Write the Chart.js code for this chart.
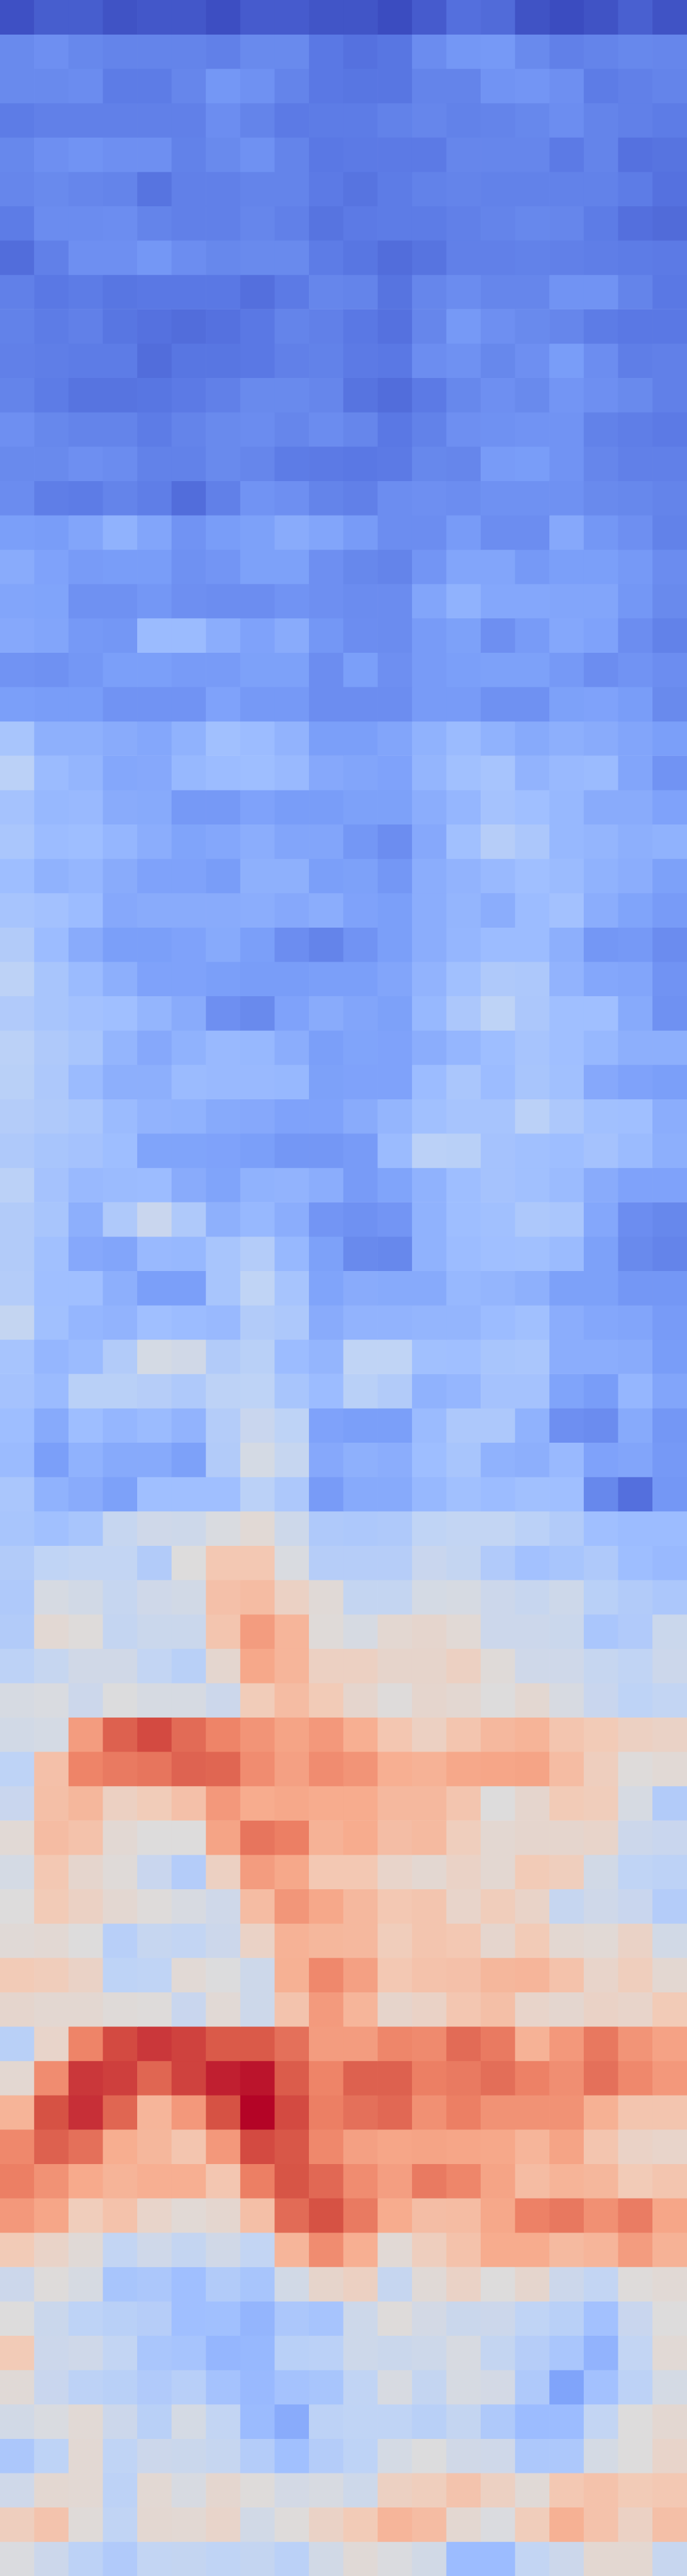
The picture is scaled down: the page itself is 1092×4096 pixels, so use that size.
<!DOCTYPE html>
<html>
<head>
<meta charset="utf-8">
<style>html,body{margin:0;padding:0;background:#fff}#wrap{width:1092px;height:4096px}canvas{display:block}</style>
<script src="https://cdn.jsdelivr.net/npm/chart.js@4"></script>
</head>
<body>
<div id="wrap"><canvas id="c" width="1092" height="4096"></canvas></div>
<script>
const columns = ['1','2','3','4','5','6','7','8','9','10','11','12','13','14','15','16','17','18','19','20'];
const row00=[1,4,4,1.5,2.5,2.5,0.5,3.5,3.5,2,2,0,3.5,8,7,1.5,0,1.5,4.5,1.5];
const row01=[14.5,16,14,13,13,13,12,14.5,14.5,10,8.5,9.5,15,18,18.5,14.5,12,13,14,13.5];
const row02=[14.5,14.5,15,11,11,13.5,18,16.5,13,10,9.5,9.5,13,13,17,17.5,16,11,12,13];
const row03=[11,12,12,12,12,12,15.5,13,10.5,11,11,12.5,13.5,12.5,13,14,15.5,13,12,11];
const row04=[14,16,17,16,16,12.5,14.5,16.5,13,10,10.5,10.5,10.5,13.5,13.5,13.5,10.5,13,8.5,9];
const row05=[13.5,14.5,13.5,13,9,12,12,13,13,10.5,9,11,12.5,13,12.5,12.5,12.5,12.5,11,8.5];
const row06=[11,15,15,15.5,13,12,12,13.5,12,9,10.5,11,11,12,13,14,13.5,11,8,7];
const row07=[7.5,12,16,16,18,15.5,14,14.5,14.5,11,9.5,7.5,9,12,12,12.5,12,11.5,11,10.5];
const row08=[12,10,11,9.5,10,10,10,8,10.5,13.5,13,9,13.5,15,13.5,13.5,17,17,13,10];
const row09=[12.5,11,12,9.5,8.5,7.5,8.5,10,13,12,10,8.5,13.5,18.5,16,14.5,13.5,11,10,10];
const row10=[12,11.5,11,11,7.5,9.5,9.5,10,12,12.5,10.5,10,15.5,16.5,14,16,19.5,15.5,11.5,12];
const row11=[13,11,9,9,9.5,10.5,12,14.5,14.5,13.5,9,7.5,10.5,14,16,14.5,17.5,16,14.5,12];
const row12=[16,14,13,13,11,13,14.5,15,13.5,15,13.5,10,12.5,16,16.5,17,17,12.5,11.5,10.5];
const row13=[14.5,14.5,16,15,12.5,12.5,14.5,13.5,11,10.5,10,10.5,14,13.5,19,19.5,17,13.5,12,12];
const row14=[15,11.5,11,13,11.5,7.5,12,17,16,13,12,15.5,16,15.5,16.5,16.5,16.5,14.5,14,13];
const row15=[20,19.5,22,26,22,17,19.5,20.5,24,22,19,15.5,15.5,19,15.5,15.5,23,18,16,12.5];
const row16=[24,21,19,19.5,19.5,16.5,17.5,20.5,20.5,16,14,13,17.5,22,22,18.5,20,20,18.5,15];
const row17=[22,21.5,16.5,16.5,18,16,15.5,15.5,17,16,15,15,22,26,22.5,22.5,22,22,18,14.5];
const row18=[23,22,18.5,18,29,29,24.5,21,24,18,15.5,15,19,20.5,16,19,22.5,21,15.5,12.5];
const row19=[17,16.5,18,20,20,19,19,20.5,20.5,15.5,20,16,19,20,20.5,20.5,18.5,15.5,17,15.5];
const row20=[20,19.5,19.5,17,17,17,21,18.5,18.5,15.5,15.5,15.5,19,19,16.5,16.5,20.5,21,19.5,14.5];
const row21=[33,25.5,25.5,24,22.5,26,31,29.5,26.5,20,20,22,26,29,26,23.5,25,24,22,20];
const row22=[38.5,29,27,22.5,23,28,29.5,30,28.5,23,22,21,27,31,32.5,26.5,28.5,29,22,17];
const row23=[32,28,28.5,24,23.5,18.5,18.5,21,19.5,19.5,20.5,20.5,24.5,27.5,32,30.5,28,24,24,21];
const row24=[33.5,29.5,30,27.5,24.5,21.5,22.5,24.5,22,22,18,15.5,23,31,37,34,28,27,25,26];
const row25=[30,26,27.5,24,21,21,19.5,25.5,25.5,20,20.5,18,24.5,26.5,28.5,30.5,29,26,24.5,20.5];
const row26=[32.5,31.5,29.5,23,24,24,24,24.5,23,24.5,21,20,24.5,27,24.5,29.5,31.5,24.5,21.5,19];
const row27=[36,29.5,24,20,20,21,23.5,20,15.5,13,17,20,24.5,27.5,29.5,29.5,25,18,18.5,15];
const row28=[39,33,29,25,21,21,20,19.5,19.5,20,20,22,26.5,31,35,34.5,26.5,22.5,22,17];
const row29=[35.5,33,31.5,30.5,27,24,16,14.5,21,24,22,20.5,28,34,39.5,34,30.5,30.5,23.5,16.5];
const row30=[38.5,35,33,27,23,26,28.5,28,24.5,20,21.5,21,24.5,27.5,30,32.5,30.5,28,25,25];
const row31=[38,34.5,29,25,25,29,28.5,28.5,28,20.5,21,21,29.5,33.5,29.5,33,31,23,21,20];
const row32=[36.5,35,33.5,29,26.5,26,23.5,23,21,21,24,27,31,32.5,32.5,38.5,34.5,31,30.5,24.5];
const row33=[35,33,32,30,21.5,21.5,21,20,18,18,19,29,38.5,38,32,31,30,32,29,25];
const row34=[38.5,32,28.5,29,29.5,24,21.5,26,26.5,24.5,19,21.5,26,30,32,31,29,24,21,21];
const row35=[36,33,25,35,43,35,25.5,28,24.5,17.5,16.5,17.5,26,30,31,34.5,33.5,22.5,15.5,14];
const row36=[36,31,23,22,28.5,28,33,36.5,28,20.5,14.5,14,26,29.5,30.5,31,29,20.5,14.5,13];
const row37=[36.5,30.5,30.5,25,20,20,33,40,32.5,21.5,24,23.5,23.5,28,27,25.5,20.5,20.5,18,18];
const row38=[41.5,31,27.5,26.5,30.5,29.5,28.5,36,34.5,24,26.5,26.5,27,27,29.5,31,24.5,22.5,22,19];
const row39=[32.5,27.5,29,36,47,45.5,36,38,29.5,27,40,40,31,30.5,33,33.5,24.5,24.5,24,19.5];
const row40=[32,29,38,38,37,35,39,39.5,33,29.5,38,36,26,27.5,32,32,21.5,19.5,27.5,22];
const row41=[30,23.5,30,27.5,29,26.5,36.5,43,39.5,21,20,20,29,34.5,34.5,26,16,15,23.5,18];
const row42=[29,20,26,23.5,23.5,20.5,36,47,42,23,25.5,24.5,30,33,26,25,28.5,21,22,18.5];
const row43=[33.5,26,24,20.5,30.5,30.5,30.5,38.5,34.5,19,23.5,23.5,28,31,29.5,31,30.5,14,8,18];
const row44=[33,31,33,42,45,44.5,48.5,52,44.5,35,34.5,35,40,41,41,38.5,36,30.5,29.5,29.5];
const row45=[36,40,41,41,36,50,61,61,48.5,37,37,37,43,41.5,35.5,31.5,33,35,30,28.5];
const row46=[35,47.5,46,42,45,46,63.5,65,56.5,51.5,41.5,41.5,47,47.5,44,42.5,44.5,38,36,34];
const row47=[36,52.5,50.5,41.5,43.5,43.5,62,74,67,51,47.5,53,54,52,44,44,43.5,33.5,35.5,43.5];
const row48=[39,42,45.5,45.5,41,38,53.5,71,67,57,57,54.5,54.5,57,51,45,45,42,40.5,44];
const row49=[47.5,48.5,44,49.5,47.5,47.5,44,59.5,65,60,54,50.5,54,53,50,53,48,43,39.5,41];
const row50=[46,47,74,87,91,85,80,76,72,75,69,61.5,57,62,66,67.5,62,60,57,56];
const row51=[39.5,63.5,80,82,83,86.5,86,78,73,78,76,69,68,71,71.5,72,65,58,50.5,52];
const row52=[43,64,66.5,57,59.5,63.5,75,70,71,70,70,66,66,62,50,54,60,59,47.5,36];
const row53=[52,65,63,52.5,50,50,72,83,81,68,70,64.5,65.5,58.5,53,54,54,55,44,43];
const row54=[47,61,54,51,43,36.5,57,74,71,61,61,55,53,56,53,60,58.5,46,40,39];
const row55=[50,60,56.5,53,50.5,48,45,65,75.5,71,66,61,62,55,59,55.5,42,45,43,36.5];
const row56=[51.5,52.5,50,37.5,42,41,44,56,68,66.5,66,59,62,61,54,60,53,52,56,46];
const row57=[60,59,56,39.5,40,52,49.5,44.5,68.5,79,73,61,63,63.5,66.5,67,63,55,58.5,53];
const row58=[54,53,53,51,50.5,43,52,44.5,62.5,74.5,67,54.5,56,61.5,64,55,53.5,56,55,60];
const row59=[38,55,80,91,93.5,92,88.5,88.5,84,74,74,79.5,78.5,85,82,68,75,82.5,76,72.5];
const row60=[53,78,93.5,92.5,86,92,96.5,98,88,80,87,87,81,82,84.5,80.5,77.5,84,79,75];
const row61=[67.5,90,94.5,86,67,75,90,100,91,81,84,85.5,77,81,76.5,76.5,76.5,68.5,62,62];
const row62=[79,87,84,69.5,66.5,62,75,91,89,79,73,71.5,72,71.5,71,67,72,62,56,55];
const row63=[81,76.5,70.5,67.5,69,69,61.5,81,89.5,85.5,78,73.5,82,79.5,72,65,67.5,66.5,60,62];
const row64=[75,71.5,59,63,55,52,53.5,64,85,90,82,70,64.5,65,71,80.5,82.5,77,81.5,71.5];
const row65=[60,55.5,51.5,41,45,41.5,45.5,41,67,78,69,52,58,63,70,70,65.5,67,74,68];
const row66=[44,50.5,47.5,33,34,30.5,36,33,46,54.5,57,42,51.5,56,50,54,44,41,50.5,52];
const row67=[50,43.5,39.5,38,37,30.5,31,27,34,32.5,44.5,50.5,46.5,43.5,44,40,38,31.5,43,50];
const row68=[60,44,45,41,33.5,32.5,27.5,28,38,38.5,44.5,43.5,44.5,48,41.5,37,33.5,26.5,41,52];
const row69=[51.5,43,39,38,35.5,37.5,32,28.5,32,33,40.5,48,41.5,47.5,46.5,35,21.5,31.5,39,47];
const row70=[46,48.5,52,44,38,47,41,29,24,39,40,40,38,41.5,35,29.5,29.5,41,50,53];
const row71=[34,39.5,52.5,40,44,43.5,42,36.5,31,36.5,39.5,47,49.5,45.5,45,34.5,34.5,47,50,55];
const row72=[45,53,52.5,39,52.5,48,53.5,50.5,46.5,48,44.5,57,58.5,62.5,57,51.5,61,63,60,61];
const row73=[58,62.5,51,40.5,53,52.5,55,46,50.5,56,60,67,65,53,49,59,68.5,63,56.5,64];
const row74=[49,44,39,35.5,41,41.5,40,41.5,38.5,46,51.5,49,46,29.5,29.5,41,44,53,53,42.5];

const rows=[row00,row01,row02,row03,row04,row05,row06,row07,row08,row09,row10,row11,row12,row13,row14,row15,row16,row17,row18,row19,row20,row21,row22,row23,row24,row25,row26,row27,row28,row29,row30,row31,row32,row33,row34,row35,row36,row37,row38,row39,row40,row41,row42,row43,row44,row45,row46,row47,row48,row49,row50,row51,row52,row53,row54,row55,row56,row57,row58,row59,row60,row61,row62,row63,row64,row65,row66,row67,row68,row69,row70,row71,row72,row73,row74];

const coolwarm=[[59,76,192],[90,120,228],[123,159,249],[158,190,255],[192,212,245],[221,220,220],[242,203,183],[247,172,142],[238,132,104],[214,82,68],[180,4,38]];
function colorFor(v){
  const t=Math.max(0,Math.min(100,v))/10;
  const i=Math.min(9,Math.floor(t)),f=t-i;
  const a=coolwarm[i],b=coolwarm[i+1];
  return 'rgb('+a.map((x,k)=>Math.round(x+(b[k]-x)*f)).join(',')+')';
}

new Chart(document.getElementById('c'),{
  type:'bar',
  data:{
    labels:columns,
    datasets:rows.map((vals,r)=>({
      label:'row '+(r+1),
      data:vals.map(()=>[r,r+1]),
      backgroundColor:vals.map(colorFor),
      borderWidth:0,
      grouped:false,
      barPercentage:1,
      categoryPercentage:1
    }))
  },
  options:{
    responsive:false,
    animation:false,
    events:[],
    layout:{padding:0},
    plugins:{legend:{display:false},tooltip:{enabled:false},title:{display:false}},
    scales:{
      x:{display:false,grid:{display:false}},
      y:{display:false,min:0,max:rows.length,reverse:true,grid:{display:false}}
    }
  }
});
</script>
</body>
</html>
